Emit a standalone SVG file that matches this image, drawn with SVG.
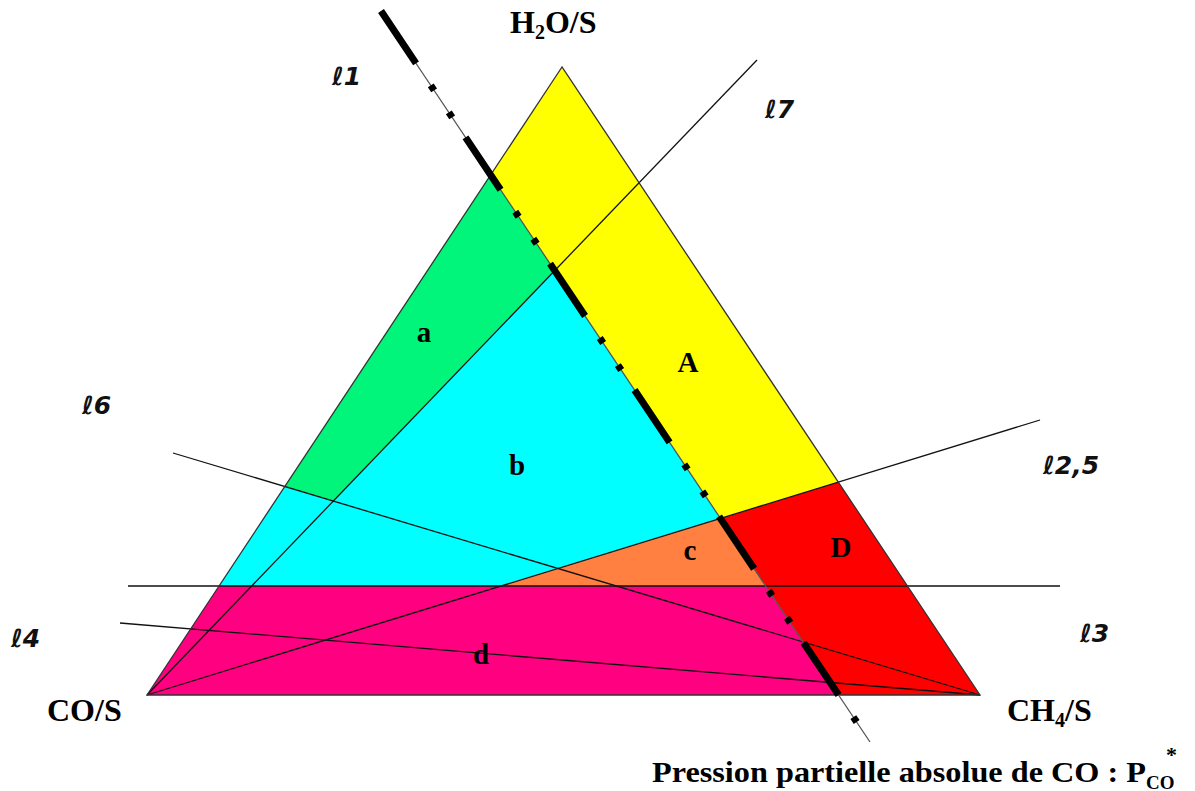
<svg xmlns="http://www.w3.org/2000/svg" width="1195" height="791" viewBox="0 0 1195 791">
<style>
.reg{stroke:none}
.ln{stroke:#111;stroke-width:1.3;fill:none}
.lbl{font-family:"Liberation Serif","Times New Roman",serif;font-weight:bold;fill:#000}
.ell{font-family:"DejaVu Sans","Liberation Sans",sans-serif;font-weight:bold;font-style:italic;font-size:25px;fill:#111}
</style>
<rect width="1195" height="791" fill="#fff"/>
<g id="region-A"><polygon class="reg" fill="#FFFF00" points="562,67 838.3,482.1 720.8,518.5 490.6,175"/></g>
<g id="region-D"><polygon class="reg" fill="#FF0000" points="720.8,518.5 838.3,482.1 980,695 838.6,695"/></g>
<g id="region-a"><polygon class="reg" fill="#00F57A" points="490.6,175 554.5,270.1 333.3,501.1 284.8,486.5"/></g>
<g id="region-b"><polygon class="reg" fill="#00FFFF" points="554.5,270.1 720.8,518.5 501,586 219,586 284.8,486.5 333.3,501.1"/></g>
<g id="region-c"><polygon class="reg" fill="#FF8040" points="720.8,518.5 765.6,586 501,586"/></g>
<g id="region-d"><polygon class="reg" fill="#FF0080" points="219,586 765.6,586 838.6,695 147,695"/></g>
<g id="connectors">
<line class="ln" x1="147" y1="695" x2="757" y2="60"/>
<line class="ln" x1="147" y1="695" x2="1040" y2="420"/>
<line class="ln" x1="128" y1="586" x2="1060" y2="586"/>
<line class="ln" x1="173" y1="453" x2="980" y2="695"/>
<line class="ln" x1="120" y1="623" x2="980" y2="695"/>
<polygon points="562,67 147,695 980,695" fill="none" stroke="#333" stroke-width="1.3"/>
<line x1="381" y1="11" x2="870" y2="742" stroke="#555" stroke-width="1.3"/>
<line x1="381" y1="11" x2="870" y2="742" stroke="#000" stroke-width="7" stroke-dasharray="63 26.5 6 26.5 6 24"/>
</g>
<g id="vertex-labels">
<text class="lbl" x="510" y="33" font-size="32">H<tspan font-size="20" dy="6">2</tspan><tspan dy="-6">O/S</tspan></text>
<text class="lbl" x="47" y="721" font-size="32">CO/S</text>
<text class="lbl" x="1007" y="721" font-size="32">CH<tspan font-size="20" dy="6">4</tspan><tspan dy="-6">/S</tspan></text>
</g>
<g id="region-labels">
<text class="lbl" x="424" y="342" font-size="29" text-anchor="middle">a</text>
<text class="lbl" x="688" y="372" font-size="29" text-anchor="middle">A</text>
<text class="lbl" x="517" y="475" font-size="29" text-anchor="middle">b</text>
<text class="lbl" x="690" y="560" font-size="29" text-anchor="middle">c</text>
<text class="lbl" x="841" y="557" font-size="29" text-anchor="middle">D</text>
<text class="lbl" x="481" y="664" font-size="29" text-anchor="middle">d</text>
</g>
<g id="line-labels">
<text class="ell" x="332" y="85">ℓ1</text>
<text class="ell" x="765" y="118">ℓ7</text>
<text class="ell" x="82" y="414">ℓ6</text>
<text class="ell" x="1043" y="474">ℓ2,5</text>
<text class="ell" x="1080" y="642">ℓ3</text>
<text class="ell" x="11" y="647">ℓ4</text>
</g>
<g id="axis-title">
<text class="lbl" x="652" y="782" font-size="30" textLength="494" lengthAdjust="spacingAndGlyphs">Pression partielle absolue de CO : P</text>
<text class="lbl" x="1146" y="789" font-size="19">CO</text>
<text class="lbl" x="1166" y="762" font-size="22">*</text>
</g>
</svg>
